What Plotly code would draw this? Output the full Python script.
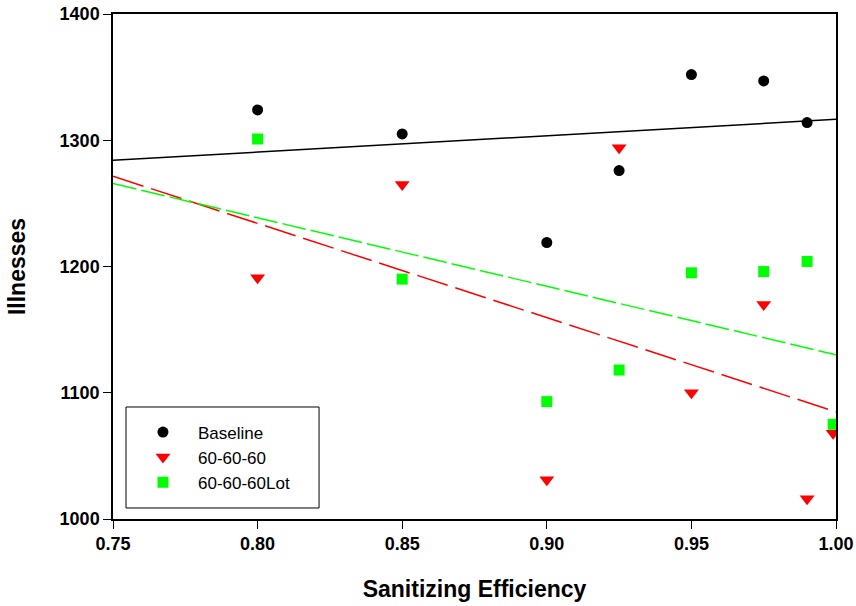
import numpy as np
import plotly.graph_objects as go

# Data
x_base = [0.80, 0.85, 0.90, 0.925, 0.95, 0.975, 0.99]
y_base = [1324, 1305, 1219, 1276, 1352, 1347, 1314]

x_606 = [0.80, 0.85, 0.90, 0.925, 0.95, 0.975, 0.99, 0.999]
y_606 = [1191, 1265, 1031, 1294, 1100, 1170, 1016, 1068]

x_lot = [0.80, 0.85, 0.90, 0.925, 0.95, 0.975, 0.99, 0.999]
y_lot = [1301, 1190, 1093, 1118, 1195, 1196, 1204, 1075]

x_ticks = [0.75, 0.80, 0.85, 0.90, 0.95, 1.00]
y_ticks = [1000, 1100, 1200, 1300, 1400]
fit_x = [0.75, 1.00]

FONT = "Liberation Sans, Arial, sans-serif"


def fit_line(xs, ys):
    m, b = np.polyfit(xs, ys, 1)
    return [m * v + b for v in fit_x]


fig = go.Figure()

fig.add_trace(go.Scatter(x=fit_x, y=fit_line(x_base, y_base), mode="lines",
                         line=dict(color="black", width=1.5), showlegend=False))
fig.add_trace(go.Scatter(x=fit_x, y=fit_line(x_606, y_606), mode="lines",
                         line=dict(color="#FF0000", width=1.5, dash="32px,8px"), showlegend=False))
fig.add_trace(go.Scatter(x=fit_x, y=fit_line(x_lot, y_lot), mode="lines",
                         line=dict(color="#00FF00", width=1.5, dash="24px,5px"), showlegend=False))

fig.add_trace(go.Scatter(x=x_base, y=y_base, mode="markers", name="Baseline",
                         marker=dict(symbol="circle", size=11, color="black")))
fig.add_trace(go.Scatter(x=x_606, y=y_606, mode="markers", name="60-60-60",
                         marker=dict(symbol="triangle-down", size=13, color="#FF0000")))
fig.add_trace(go.Scatter(x=x_lot, y=y_lot, mode="markers", name="60-60-60Lot",
                         marker=dict(symbol="square", size=11, color="#00FF00")))

# legend frame
fig.add_shape(type="rect", xref="paper", yref="paper",
              x0=0.018, x1=0.285, y0=0.0218, y1=0.2218,
              line=dict(color="black", width=1), fillcolor="white", layer="below")

fig.update_layout(
    width=856, height=606,
    margin=dict(l=113, r=20, t=14, b=87),
    paper_bgcolor="white", plot_bgcolor="white",
    font=dict(family=FONT, color="black"),
    legend=dict(x=0.0207, y=0.207, xanchor="left", yanchor="top",
                borderwidth=0, bgcolor="rgba(0,0,0,0)",
                font=dict(size=17, family=FONT), itemwidth=60,
                tracegroupgap=0),
)
fig.update_xaxes(range=[0.75, 1.00], tickvals=x_ticks, ticktext=[f"{v:.2f}" for v in x_ticks],
                 showgrid=False, zeroline=False, showline=True, linecolor="black", linewidth=1.5,
                 mirror=True, ticks="outside", ticklen=8, tickcolor="black", automargin=False,
                 tickfont=dict(size=18, family=FONT, weight="bold"),
                 title=dict(text="Sanitizing Efficiency", font=dict(size=23, family=FONT, weight="bold"),
                            standoff=28))
fig.update_yaxes(range=[1000, 1400], tickvals=y_ticks,
                 showgrid=False, zeroline=False, showline=True, linecolor="black", linewidth=1.5,
                 mirror=True, ticks="outside", ticklen=8, tickcolor="black", automargin=False,
                 tickfont=dict(size=18, family=FONT, weight="bold"),
                 title=dict(text="Illnesses", font=dict(size=23, family=FONT, weight="bold"),
                            standoff=28))

fig.write_html("out.html")
